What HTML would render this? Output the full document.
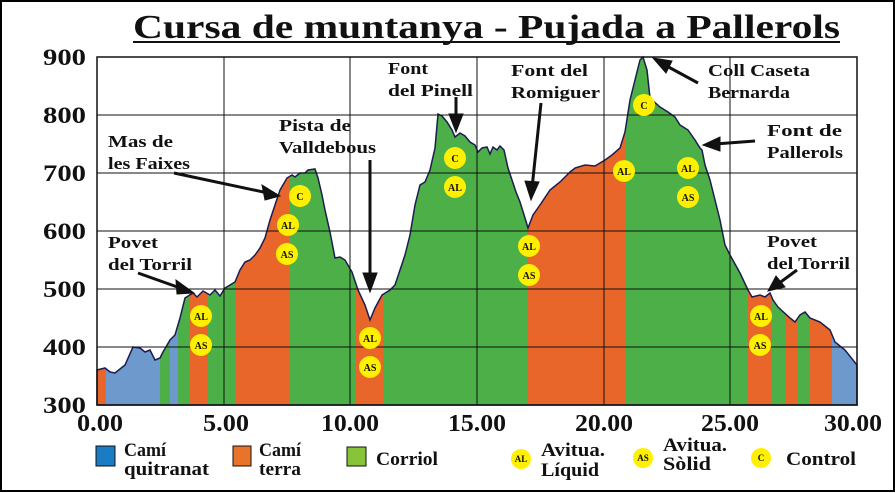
<!DOCTYPE html>
<html><head><meta charset="utf-8"><style>
html,body{margin:0;padding:0;background:#fff}
svg{display:block}
text{font-family:"Liberation Serif",serif;font-weight:bold;fill:#111}
</style></head><body>
<svg width="895" height="493" viewBox="0 0 895 493" xmlns="http://www.w3.org/2000/svg">
<defs>
<clipPath id="prof"><polygon id="pp" points="97,405 97,370 105,368 110,372 115,373 125,365 133,347 140,348 145,352 150,350 155,360 160,358 163,352 170,340 175,335 180,318 185,298 193,293 197,297 203,291 210,295 215,290 220,296 225,288 230,285 235,282 240,270 245,262 250,260 255,255 260,248 265,238 270,220 275,205 280,190 287,178 292,175 295,177 300,173 305,173 308,170 315,169 318,178 322,195 325,210 330,232 335,258 340,257 345,260 352,272 358,290 365,305 370,320 375,308 382,295 390,290 395,285 400,270 405,255 410,235 415,205 420,185 425,182 430,170 435,148 438,114 442,116 447,122 452,130 455,137 460,133 465,136 470,142 475,145 478,152 482,148 487,147 490,154 493,147 497,150 500,146 504,150 508,168 512,180 516,192 520,202 525,218 528,228 533,215 540,205 550,190 560,182 570,172 575,168 585,165 595,166 605,160 612,155 620,148 625,132 630,100 635,80 640,60 643,57 647,70 650,98 660,107 668,112 675,117 680,125 688,130 695,140 700,148 702,150 705,165 710,180 715,200 720,220 725,245 730,255 740,273 748,290 752,297 760,295 765,297 770,293 773,300 778,307 790,318 795,322 800,315 805,312 810,318 820,322 830,330 835,342 845,350 857,365 857,405"/></clipPath>
</defs>
<rect x="1" y="1" width="893" height="490" fill="#fff" stroke="#000" stroke-width="2"/>
<text x="133" y="38" font-size="34" textLength="707" lengthAdjust="spacingAndGlyphs">Cursa de muntanya - Pujada a Pallerols</text>
<rect x="133" y="41" width="707" height="2" fill="#111"/>
<g clip-path="url(#prof)">
<rect x="97" y="50" width="9" height="360" fill="#e8662a"/>
<rect x="106" y="50" width="54" height="360" fill="#6d99cc"/>
<rect x="160" y="50" width="10" height="360" fill="#4caf47"/>
<rect x="170" y="50" width="8" height="360" fill="#6d99cc"/>
<rect x="178" y="50" width="12" height="360" fill="#4caf47"/>
<rect x="190" y="50" width="18" height="360" fill="#e8662a"/>
<rect x="208" y="50" width="27" height="360" fill="#4caf47"/>
<rect x="235" y="50" width="54" height="360" fill="#e8662a"/>
<rect x="289" y="50" width="66" height="360" fill="#4caf47"/>
<rect x="355" y="50" width="28" height="360" fill="#e8662a"/>
<rect x="383" y="50" width="144" height="360" fill="#4caf47"/>
<rect x="527" y="50" width="98" height="360" fill="#e8662a"/>
<rect x="625" y="50" width="123" height="360" fill="#4caf47"/>
<rect x="748" y="50" width="24" height="360" fill="#e8662a"/>
<rect x="772" y="50" width="13" height="360" fill="#4caf47"/>
<rect x="785" y="50" width="12" height="360" fill="#e8662a"/>
<rect x="797" y="50" width="13" height="360" fill="#4caf47"/>
<rect x="810" y="50" width="22" height="360" fill="#e8662a"/>
<rect x="832" y="50" width="25" height="360" fill="#6d99cc"/>
</g>
<use href="#pp" fill="none" stroke="#1c1c50" stroke-width="1.5"/>
<g stroke="#111" stroke-width="1">
<line x1="97" y1="57" x2="857" y2="57"/><line x1="97" y1="115" x2="857" y2="115"/><line x1="97" y1="173" x2="857" y2="173"/><line x1="97" y1="231" x2="857" y2="231"/><line x1="97" y1="289" x2="857" y2="289"/><line x1="97" y1="347" x2="857" y2="347"/>
<line x1="224" y1="57" x2="224" y2="405"/><line x1="350" y1="57" x2="350" y2="405"/><line x1="477" y1="57" x2="477" y2="405"/><line x1="604" y1="57" x2="604" y2="405"/><line x1="730" y1="57" x2="730" y2="405"/>
</g>
<rect x="97" y="57" width="760" height="348" fill="none" stroke="#111" stroke-width="1.5"/>
<g font-size="23" text-anchor="end">
<text x="86" y="65" textLength="43" lengthAdjust="spacingAndGlyphs">900</text><text x="86" y="123" textLength="43" lengthAdjust="spacingAndGlyphs">800</text><text x="86" y="181" textLength="43" lengthAdjust="spacingAndGlyphs">700</text><text x="86" y="239" textLength="43" lengthAdjust="spacingAndGlyphs">600</text><text x="86" y="297" textLength="43" lengthAdjust="spacingAndGlyphs">500</text><text x="86" y="355" textLength="43" lengthAdjust="spacingAndGlyphs">400</text><text x="86" y="413" textLength="43" lengthAdjust="spacingAndGlyphs">300</text>
</g>
<g font-size="24" text-anchor="middle">
<text x="100" y="431" textLength="46" lengthAdjust="spacingAndGlyphs">0.00</text><text x="226" y="431" textLength="46" lengthAdjust="spacingAndGlyphs">5.00</text><text x="350" y="431" textLength="58" lengthAdjust="spacingAndGlyphs">10.00</text><text x="477" y="431" textLength="58" lengthAdjust="spacingAndGlyphs">15.00</text><text x="604" y="431" textLength="58" lengthAdjust="spacingAndGlyphs">20.00</text><text x="730" y="431" textLength="58" lengthAdjust="spacingAndGlyphs">25.00</text><text x="853" y="431" textLength="58" lengthAdjust="spacingAndGlyphs">30.00</text>
</g>
<g font-size="17">
<text x="108" y="147" textLength="65" lengthAdjust="spacingAndGlyphs">Mas de</text><text x="108" y="169" textLength="82" lengthAdjust="spacingAndGlyphs">les Faixes</text>
<text x="108" y="248" textLength="50" lengthAdjust="spacingAndGlyphs">Povet</text><text x="108" y="270" textLength="84" lengthAdjust="spacingAndGlyphs">del Torril</text>
<text x="279" y="131" textLength="72" lengthAdjust="spacingAndGlyphs">Pista de</text><text x="279" y="153" textLength="97" lengthAdjust="spacingAndGlyphs">Valldebous</text>
<text x="388" y="74" textLength="40" lengthAdjust="spacingAndGlyphs">Font</text><text x="388" y="96" textLength="85" lengthAdjust="spacingAndGlyphs">del Pinell</text>
<text x="511" y="76" textLength="77" lengthAdjust="spacingAndGlyphs">Font del</text><text x="511" y="98" textLength="89" lengthAdjust="spacingAndGlyphs">Romiguer</text>
<text x="708" y="76" textLength="102" lengthAdjust="spacingAndGlyphs">Coll Caseta</text><text x="708" y="98" textLength="82" lengthAdjust="spacingAndGlyphs">Bernarda</text>
<text x="767" y="136" textLength="75" lengthAdjust="spacingAndGlyphs">Font de</text><text x="767" y="158" textLength="76" lengthAdjust="spacingAndGlyphs">Pallerols</text>
<text x="767" y="247" textLength="50" lengthAdjust="spacingAndGlyphs">Povet</text><text x="767" y="269" textLength="83" lengthAdjust="spacingAndGlyphs">del Torril</text>
</g>
<g stroke="#111" stroke-width="3" fill="#111">
<line x1="174" y1="173" x2="268" y2="193"/><polygon points="280,196 262,185 265,200" stroke-width="1"/>
<line x1="138" y1="273" x2="183" y2="289"/><polygon points="194,293 176,280 177,294" stroke-width="1"/>
<line x1="370" y1="160" x2="370" y2="280"/><polygon points="370,292 363,273 377,273" stroke-width="1"/>
<line x1="456" y1="97" x2="456" y2="120"/><polygon points="456,132 449,114 463,114" stroke-width="1"/>
<line x1="541" y1="103" x2="532" y2="188"/><polygon points="531,200 525,181 539,182" stroke-width="1"/>
<line x1="698" y1="83" x2="663" y2="64"/><polygon points="653,58 666,73 672,61" stroke-width="1"/>
<line x1="755" y1="141" x2="715" y2="144"/><polygon points="703,145 720,137 720,151" stroke-width="1"/>
<line x1="797" y1="270" x2="778" y2="284"/><polygon points="768,291 776,276 785,287" stroke-width="1"/>
</g>
<g font-size="10" text-anchor="middle">
<circle cx="201" cy="316" r="11" fill="#ffef00"/><text x="201" y="320">AL</text>
<circle cx="201" cy="345" r="11" fill="#ffef00"/><text x="201" y="349">AS</text>
<circle cx="300" cy="196" r="11" fill="#ffef00"/><text x="300" y="200">C</text>
<circle cx="288" cy="225" r="11" fill="#ffef00"/><text x="288" y="229">AL</text>
<circle cx="287" cy="254" r="11" fill="#ffef00"/><text x="287" y="258">AS</text>
<circle cx="370" cy="338" r="11" fill="#ffef00"/><text x="370" y="342">AL</text>
<circle cx="370" cy="367" r="11" fill="#ffef00"/><text x="370" y="371">AS</text>
<circle cx="455" cy="158" r="11" fill="#ffef00"/><text x="455" y="162">C</text>
<circle cx="455" cy="187" r="11" fill="#ffef00"/><text x="455" y="191">AL</text>
<circle cx="529" cy="246" r="11" fill="#ffef00"/><text x="529" y="250">AL</text>
<circle cx="529" cy="275" r="11" fill="#ffef00"/><text x="529" y="279">AS</text>
<circle cx="644" cy="105" r="11" fill="#ffef00"/><text x="644" y="109">C</text>
<circle cx="624" cy="171" r="11" fill="#ffef00"/><text x="624" y="175">AL</text>
<circle cx="688" cy="168" r="11" fill="#ffef00"/><text x="688" y="172">AL</text>
<circle cx="688" cy="197" r="11" fill="#ffef00"/><text x="688" y="201">AS</text>
<circle cx="761" cy="316" r="11" fill="#ffef00"/><text x="761" y="320">AL</text>
<circle cx="760" cy="345" r="11" fill="#ffef00"/><text x="760" y="349">AS</text>
</g>
<rect x="96" y="446" width="19" height="20" fill="#1b7cc4" stroke="#111"/>
<rect x="233" y="446" width="18" height="20" fill="#e8732a" stroke="#111"/>
<rect x="347" y="447" width="19" height="19" fill="#88c43a" stroke="#111"/>
<g font-size="19">
<text x="124" y="456" textLength="42" lengthAdjust="spacingAndGlyphs">Camí</text><text x="124" y="475" textLength="85" lengthAdjust="spacingAndGlyphs">quitranat</text>
<text x="259" y="456" textLength="42" lengthAdjust="spacingAndGlyphs">Camí</text><text x="259" y="475" textLength="42" lengthAdjust="spacingAndGlyphs">terra</text>
<text x="376" y="465" textLength="62" lengthAdjust="spacingAndGlyphs">Corriol</text>
<text x="541" y="456" textLength="64" lengthAdjust="spacingAndGlyphs">Avitua.</text><text x="541" y="476" textLength="58" lengthAdjust="spacingAndGlyphs">Líquid</text>
<text x="663" y="451" textLength="64" lengthAdjust="spacingAndGlyphs">Avitua.</text><text x="663" y="470" textLength="48" lengthAdjust="spacingAndGlyphs">Sòlid</text>
<text x="786" y="465" textLength="70" lengthAdjust="spacingAndGlyphs">Control</text>
</g>
<g font-size="9" text-anchor="middle">
<circle cx="521" cy="459" r="10" fill="#ffef00"/><text x="521" y="462">AL</text>
<circle cx="643" cy="458" r="10" fill="#ffef00"/><text x="643" y="461">AS</text>
<circle cx="761" cy="458" r="10" fill="#ffef00"/><text x="761" y="461">C</text>
</g>
</svg>
</body></html>
